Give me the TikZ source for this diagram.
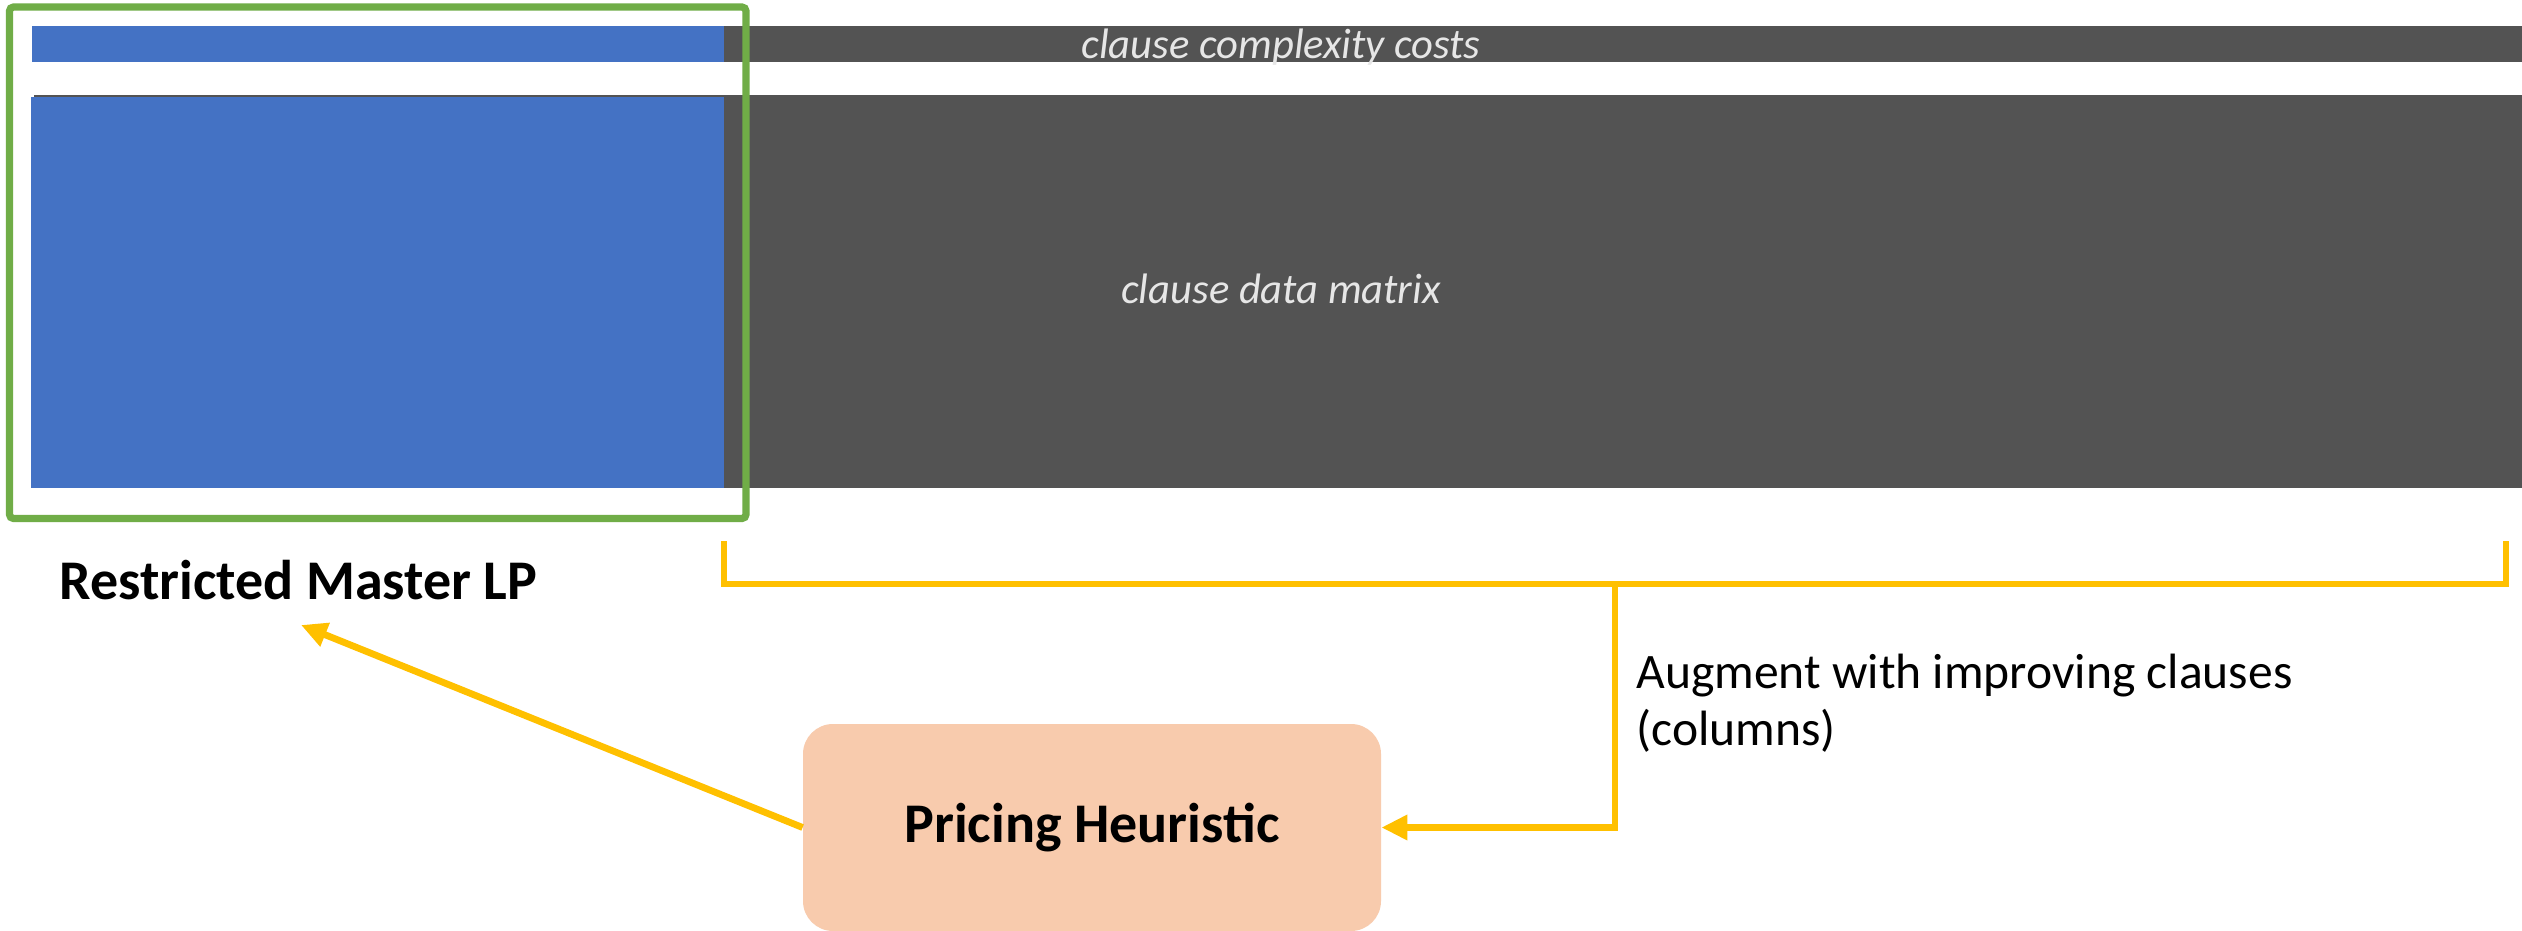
\documentclass[tikz,border=0pt]{standalone}
\usepackage{fontspec}
\setmainfont{Carlito}
\usetikzlibrary{arrows.meta}

\definecolor{barblue}{HTML}{4472C4}
\definecolor{bargray}{HTML}{535353}
\definecolor{framegreen}{HTML}{70AD47}
\definecolor{linkyellow}{HTML}{FFC000}
\definecolor{boxpeach}{HTML}{F8CBAD}
\definecolor{labelgray}{HTML}{E6E6E6}

\tikzset{
  barlabel/.style={font=\fontsize{21.3}{25}\selectfont\itshape, text=labelgray, inner sep=0pt, anchor=base},
  headlabel/.style={font=\fontsize{28}{34}\selectfont\bfseries, text=black, inner sep=0pt},
  notelabel/.style={font=\fontsize{24.8}{30}\selectfont, text=black, inner sep=0pt, anchor=base west},
  yline/.style={draw=linkyellow, line width=3.4pt},
  yarrow/.style={yline, -{Triangle[length=13pt, width=12pt]}},
  procbox/.style={rectangle, rounded corners=15pt, fill=boxpeach, draw=none,
    minimum width=289pt, minimum height=103.5pt, inner sep=0pt, headlabel},
}

\begin{document}
\begin{tikzpicture}[x=0.5pt, y=-0.5pt]
  \useasboundingbox (0,0) rectangle (2522,931);
  \fill[white] (0,0) rectangle (2522,931);

  % cost row and data matrix
  \fill[bargray] (724,26) rectangle (2522,62);
  \fill[barblue] (32,26) rectangle (724,62);
  \fill[bargray] (34,95) rectangle (2522,488);
  \fill[barblue] (31,97) rectangle (724,488);

  \node[barlabel] (costs) at (1281,59) {clause complexity costs};
  \node[barlabel] (matrix) at (1281,303) {clause data matrix};

  % restricted master frame
  \draw[framegreen, line width=3.6pt, rounded corners=2pt] (9.5,7) rectangle (746,518.5);
  \node[headlabel, anchor=base west] (rmlp) at (59,599) {Restricted Master LP};

  % pricing step
  \node[procbox] (ph) at (1092,827.5) {Pricing Heuristic};

  % bracket under the new columns
  \coordinate (bl) at (724,541);
  \coordinate (blc) at (724,584);
  \coordinate (brc) at (2506,584);
  \coordinate (br) at (2506,541);
  \coordinate (stem) at (1615,584);
  \draw[yline] (bl) -- (blc) -- (brc) -- (br);
  \draw[yarrow] (stem) |- (ph.east);

  \node[notelabel] (aug1) at (1636,688) {Augment with improving clauses};
  \node[notelabel] (aug2) at (1636,745) {(columns)};

  % feedback to the master problem
  \coordinate (rmlptip) at (301,625);
  \draw[yarrow] (ph.west) -- (rmlptip);
\end{tikzpicture}
\end{document}
